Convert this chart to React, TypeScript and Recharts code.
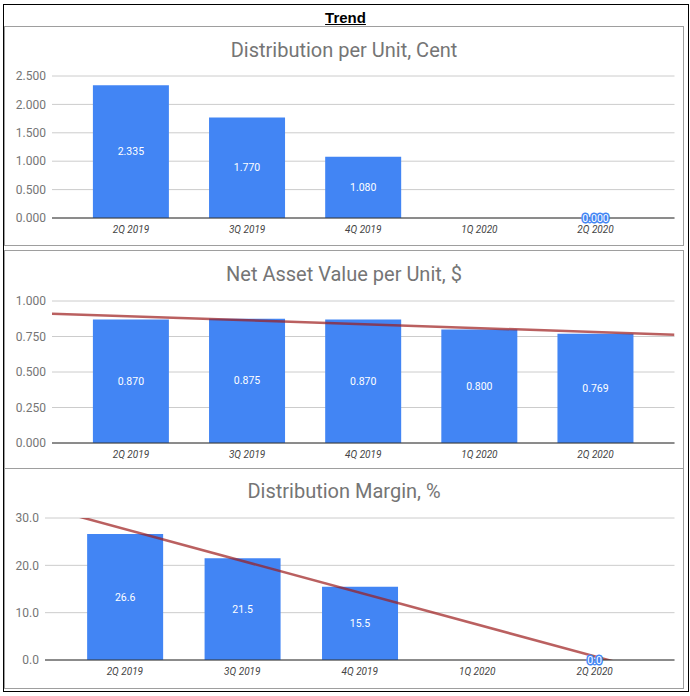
import { ComposedChart, Bar, Line, XAxis, YAxis, CartesianGrid, ReferenceLine, LabelList } from "recharts";

const quarters = ["2Q 2019", "3Q 2019", "4Q 2019", "1Q 2020", "2Q 2020"];
const distributionPerUnit = [2.335, 1.77, 1.08, null, 0];
const navPerUnit = [0.87, 0.875, 0.87, 0.8, 0.769];
const distributionMargin = [26.6, 21.5, 15.5, null, 0];

const dpuTicks = [0, 0.5, 1, 1.5, 2, 2.5];
const navTicks = [0, 0.25, 0.5, 0.75, 1];
const marginTicks = [0, 10, 20, 30];

const BAR_COLOR = "#4285f4";
const X_MIN = -0.68;
const X_MAX = 4.68;

// least squares line over the non-empty points, stretched over the whole x domain
const trendSegment = (values: (number | null)[]) => {
  const pts = values.map((v, i) => [i, v] as [number, number | null]).filter((p) => p[1] != null) as [number, number][];
  const n = pts.length;
  const mx = pts.reduce((s, p) => s + p[0], 0) / n;
  const my = pts.reduce((s, p) => s + p[1], 0) / n;
  const sxy = pts.reduce((s, p) => s + (p[0] - mx) * (p[1] - my), 0);
  const sxx = pts.reduce((s, p) => s + (p[0] - mx) ** 2, 0);
  const slope = sxy / sxx;
  const b = my - slope * mx;
  return [
    { x: X_MIN, y: b + slope * X_MIN },
    { x: X_MAX, y: b + slope * X_MAX },
  ];
};

const labelText = (cx: number, cy: number, value: number, decimals: number, halo: boolean, key?: string) => (
  <text
    key={key}
    x={cx}
    y={cy}
    textAnchor="middle"
    dominantBaseline="central"
    fontSize={10.5}
    fontFamily="Roboto"
    fill="#ffffff"
    stroke={halo ? BAR_COLOR : "none"}
    strokeWidth={halo ? 3 : 0}
    paintOrder="stroke"
  >
    {value.toFixed(decimals)}
  </text>
);

const BarLabel = (props: any) => {
  const { x, y, width, height, value, decimals } = props;
  if (value == null || Number(value) === 0) return null;
  return labelText(Number(x) + Number(width) / 2, Number(y) + Number(height) / 2, Number(value), decimals, false);
};

interface PanelProps {
  title: string;
  values: (number | null)[];
  ticks: number[];
  decimals: number;
  yWidth: number;
  panelTop: number;
  panelHeight: number;
  chartTop: number;
  titleTop: number;
  showTrend?: boolean;
}

const Panel = ({ title, values, ticks, decimals, yWidth, panelTop, panelHeight, chartTop, titleTop, showTrend }: PanelProps) => {
  const data = quarters.map((q, i) => ({ i, q, v: values[i], zero: values[i] === 0 ? 0 : null }));
  return (
    <>
      <div
        style={{
          position: "absolute",
          left: 4,
          top: panelTop,
          width: 680,
          height: panelHeight,
          border: "1px solid #9e9e9e",
          boxSizing: "border-box",
        }}
      />
      <div
        style={{
          position: "absolute",
          left: 4,
          top: titleTop,
          width: 680,
          textAlign: "center",
          fontFamily: "Roboto",
          fontSize: 20,
          lineHeight: "24px",
          color: "#757575",
        }}
      >
        {title}
      </div>
      <div style={{ position: "absolute", left: 5, top: chartTop }}>
        <ComposedChart width={678} height={215} data={data} margin={{ top: 49, right: 8.5, left: 0, bottom: 0 }}>
          <CartesianGrid vertical={false} stroke="#cccccc" />
          <XAxis
            type="number"
            dataKey="i"
            domain={[X_MIN, X_MAX]}
            ticks={[0, 1, 2, 3, 4]}
            interval={0}
            allowDataOverflow
            tickFormatter={(i: number) => quarters[i]}
            tickLine={false}
            axisLine={{ stroke: "#333333" }}
            tick={{ fontSize: 10, fill: "#444444", fontStyle: "italic", fontFamily: "Roboto" }}
            height={24}
          />
          <YAxis
            domain={[ticks[0], ticks[ticks.length - 1]]}
            ticks={ticks}
            tickFormatter={(v: number) => v.toFixed(decimals)}
            tickLine={false}
            axisLine={false}
            tickMargin={0}
            tick={{ fontSize: 12, fill: "#757575", fontFamily: "Roboto" }}
            width={yWidth}
          />
          <Bar dataKey="v" fill={BAR_COLOR} barSize={76} isAnimationActive={false}>
            <LabelList dataKey="v" content={(p: any) => <BarLabel {...p} decimals={decimals} />} />
          </Bar>
          {showTrend && (
            <ReferenceLine
              segment={trendSegment(values)}
              stroke="#9c1c1c"
              strokeOpacity={0.7}
              strokeWidth={2.5}
              ifOverflow="hidden"
            />
          )}
          <Line
            dataKey="zero"
            stroke="none"
            isAnimationActive={false}
            activeDot={false}
            dot={(p: any) =>
              p.value == null || p.cy == null
                ? <g key={`z${p.index}`} />
                : labelText(p.cx, p.cy, Number(p.value), decimals, true, `z${p.index}`)
            }
          />
        </ComposedChart>
      </div>
    </>
  );
};

export default function App() {
  return (
    <div style={{ position: "absolute", left: 0, top: 0, width: 690, height: 696, background: "#ffffff" }}>
      <div
        style={{
          position: "absolute",
          left: 3,
          top: 4,
          width: 686,
          height: 688,
          border: "1px solid #000000",
          boxSizing: "border-box",
        }}
      />
      <div
        style={{
          position: "absolute",
          left: 3,
          top: 9,
          width: 685,
          textAlign: "center",
          fontFamily: "Liberation Sans",
          fontWeight: "bold",
          fontSize: 15,
          lineHeight: "18px",
          textDecoration: "underline",
          color: "#000000",
        }}
      >
        Trend
      </div>
      <Panel
        title="Distribution per Unit, Cent"
        values={distributionPerUnit}
        ticks={dpuTicks}
        decimals={3}
        yWidth={47}
        panelTop={26}
        panelHeight={220}
        chartTop={27.3}
        titleTop={37.7}
      />
      <Panel
        title="Net Asset Value per Unit, $"
        values={navPerUnit}
        ticks={navTicks}
        decimals={3}
        yWidth={47}
        panelTop={250}
        panelHeight={219}
        chartTop={251.7}
        titleTop={261.7}
        showTrend
      />
      <Panel
        title="Distribution Margin, %"
        values={distributionMargin}
        ticks={marginTicks}
        decimals={1}
        yWidth={40}
        panelTop={468}
        panelHeight={221}
        chartTop={469.3}
        titleTop={479.2}
        showTrend
      />
    </div>
  );
}
